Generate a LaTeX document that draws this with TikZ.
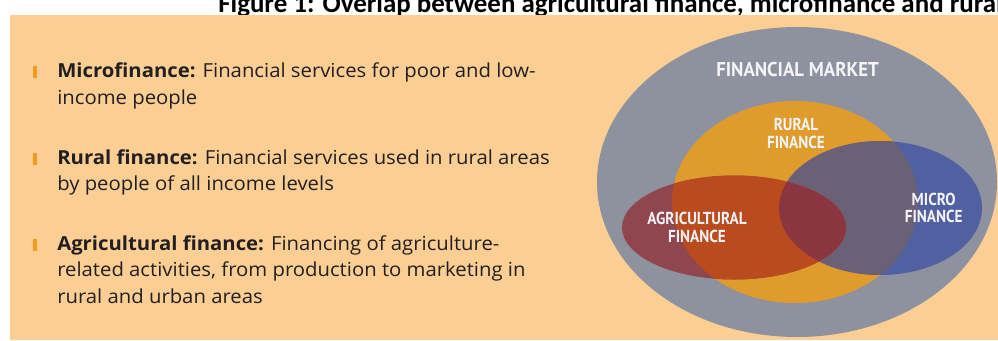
\documentclass[tikz,border=0pt]{standalone}
\usepackage{fontspec}
\setmainfont[FakeStretch=1.05]{Open Sans}
\newfontfamily\titlefont{Carlito}
\newfontfamily\labfont{PT Sans}
\definecolor{panel}{HTML}{FBCE94}
\definecolor{mkt}{HTML}{8E929E}
\definecolor{rur}{HTML}{E09B2D}
\definecolor{bluegray}{HTML}{5060A0}
\definecolor{blueorange}{HTML}{6B6176}
\definecolor{redgray}{HTML}{8F464E}
\definecolor{redorange}{HTML}{B94B1F}
\definecolor{redblue}{HTML}{8A3640}
\definecolor{bul}{HTML}{F39C1B}
\definecolor{bodytext}{HTML}{231F20}
\definecolor{labtext}{HTML}{F4F4F8}
\tikzset{
  titletext/.style={anchor=base west, inner sep=0pt, font=\titlefont\bfseries\fontsize{20.2pt}{24pt}\selectfont, text=black},
  bodyline/.style={anchor=base west, inner sep=0pt, font=\fontsize{14.5pt}{20pt}\selectfont, text=bodytext},
  biglab/.style={anchor=base, inner sep=0pt, font=\labfont\bfseries\fontsize{15pt}{18pt}\selectfont, text=labtext},
  vlab/.style={anchor=base, inner sep=0pt, font=\labfont\bfseries\fontsize{13pt}{15pt}\selectfont, text=labtext},
}
\newcommand{\mktshape}{(797,182) ellipse [x radius=200, y radius=155]}
\newcommand{\rurshape}{(795,202) ellipse [x radius=123, y radius=101]}
\newcommand{\agrshape}{(734,227.5) ellipse [x radius=112, y radius=52]}
\newcommand{\micshape}{(880.5,208) ellipse [x radius=101.5, y radius=67]}
\begin{document}
\begin{tikzpicture}[x=0.75pt,y=-0.75pt]
\useasboundingbox (0,0) rectangle (998,340);
\fill[white] (0,0) rectangle (998,340);
\node[titletext] (title) at (218,12) {Figure 1: Overlap between agricultural finance, microfinance and rural};
\fill[panel] (10,14.5) rectangle (998,340);
% bullets
\fill[bul] (33,65.5) rectangle (37,77.5);
\fill[bul] (33,152.5) rectangle (37,164.5);
\fill[bul] (33,238.5) rectangle (37,250.5);
% text
\node[bodyline] (l1) at (57,77.5) {\textbf{Microfinance:} Financial services for poor and low-};
\node[bodyline] (l2) at (57,104.3) {income people};
\node[bodyline] (l3) at (57,164.3) {\textbf{Rural finance:} Financial services used in rural areas};
\node[bodyline] (l4) at (57,190.7) {by people of all income levels};
\node[bodyline] (l5) at (57,250.3) {\textbf{Agricultural finance:} Financing of agriculture-};
\node[bodyline] (l6) at (57,276.8) {related activities, from production to marketing in};
\node[bodyline] (l7) at (57,303.3) {rural and urban areas};
% venn
\fill[mkt] \mktshape;
\fill[rur] \rurshape;
\fill[bluegray] \micshape;
\begin{scope}
  \clip \rurshape;
  \fill[blueorange] \micshape;
\end{scope}
\fill[redgray] \agrshape;
\begin{scope}
  \clip \rurshape;
  \fill[redorange] \agrshape;
\end{scope}
\begin{scope}
  \clip \micshape;
  \fill[redblue] \agrshape;
\end{scope}
% labels
\node[biglab] (fm) at (797.5,76.7) {\scalebox{0.94}[1]{FINANCIAL MARKET}};
\node[vlab] (rf1) at (796,130.7) {\scalebox{0.88}[1]{RURAL}};
\node[vlab] (rf2) at (796,148.3) {\scalebox{0.88}[1]{FINANCE}};
\node[vlab] (af1) at (697,224.3) {\scalebox{0.88}[1]{AGRICULTURAL}};
\node[vlab] (af2) at (697,242) {\scalebox{0.88}[1]{FINANCE}};
\node[vlab] (mf1) at (933.7,205) {\scalebox{0.88}[1]{MICRO}};
\node[vlab] (mf2) at (933.7,222.7) {\scalebox{0.88}[1]{FINANCE}};
\end{tikzpicture}
\end{document}
